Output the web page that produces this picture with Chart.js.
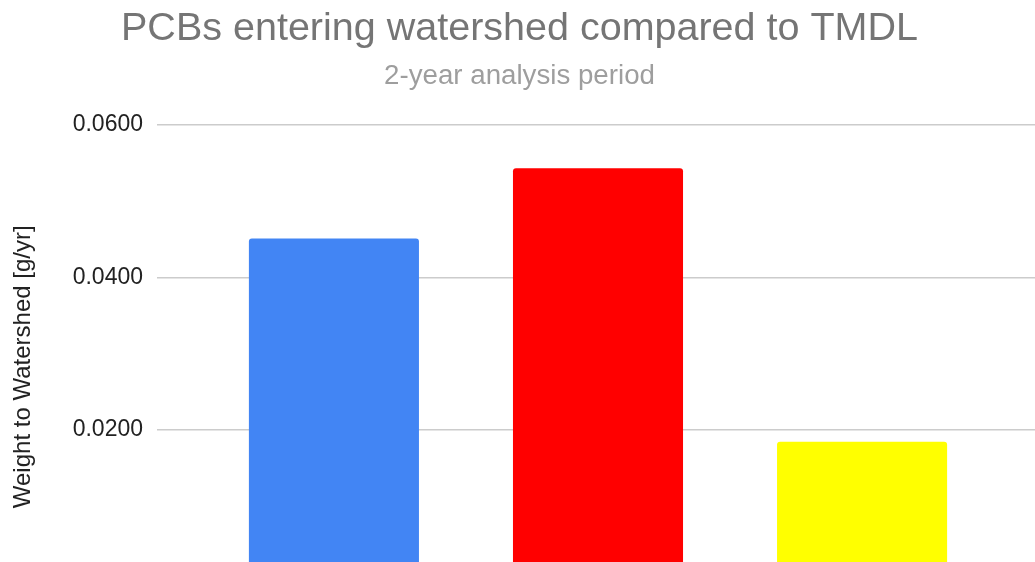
<!DOCTYPE html>
<html>
<head>
<meta charset="utf-8">
<script src="https://cdn.jsdelivr.net/npm/chart.js@4.4.1/dist/chart.umd.min.js"></script>
<style>
  html, body { margin: 0; padding: 0; background: #fff; overflow: hidden; }
  #wrap { width: 1048px; height: 640px; }
</style>
</head>
<body>
<div id="wrap"><canvas id="chart" width="1048" height="640"></canvas></div>
<script>
// bar categories (the axis labels sit below the visible area)
const categories = ['Average load', 'Maximum load', 'TMDL']
const loads = [0.0451, 0.0543, 0.0184] // g/yr
const barColors = ['#4285f4', '#ff0000', '#ffff00']
const yTicks = [0, 0.02, 0.04, 0.06]

const FONT = 'Arial, "Liberation Sans", sans-serif'

const chart = new Chart(document.getElementById('chart'), {
  type: 'bar',
  data: {
    datasets: [
      {
        label: 'Weight to Watershed',
        data: loads.map((v, i) => ({ x: i, y: v })),
        backgroundColor: barColors,
        borderRadius: 3,
        categoryPercentage: 1,
        barPercentage: 0.644,
      },
    ],
  },
  options: {
    responsive: false,
    animation: false,
    layout: { padding: { left: 0, right: 9, top: 0, bottom: 0 } },
    plugins: {
      legend: { display: false },
      tooltip: { enabled: false },
      title: {
        display: true,
        text: 'PCBs entering watershed compared to TMDL',
        color: '#757575',
        font: { family: FONT, size: 39.5, weight: 'normal' },
        padding: { top: 5, bottom: 0 },
      },
      subtitle: {
        display: true,
        text: '2-year analysis period',
        color: '#9e9e9e',
        font: { family: FONT, size: 27.7, weight: 'normal' },
        padding: { top: 7.5, bottom: 31.8 },
      },
    },
    scales: {
      x: {
        type: 'linear',
        min: -0.67,
        max: 2.67,
        offset: false,
        afterBuildTicks: (scale) => { scale.ticks = categories.map((c, i) => ({ value: i })) },
        grid: { display: false },
        border: { display: false },
        ticks: {
          color: '#222',
          font: { family: FONT, size: 20 },
          callback: (v) => categories[v] || '',
        },
        afterFit: (scale) => { scale.height = 58 },
      },
      y: {
        min: yTicks[0],
        max: yTicks[yTicks.length - 1],
        afterBuildTicks: (scale) => { scale.ticks = yTicks.map((v) => ({ value: v })) },
        grid: { color: '#cccccc', lineWidth: 1.5, drawTicks: false },
        border: { display: false },
        ticks: {
          color: '#222',
          padding: 14,
          font: { family: FONT, size: 23 },
          callback: (v) => v.toFixed(4),
        },
        title: {
          display: true,
          text: 'Weight to Watershed [g/yr]\u00a0\u00a0\u00a0\u00a0',
          color: '#222',
          font: { family: FONT, size: 24 },
          padding: { top: 9, bottom: 0 },
        },
        afterFit: (scale) => { scale.width = 157 },
      },
    },
  },
})
</script>
</body>
</html>
